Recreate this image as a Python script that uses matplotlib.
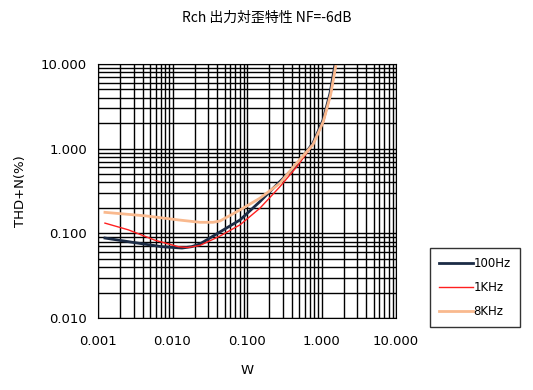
import matplotlib
matplotlib.use("Agg")
import matplotlib.pyplot as plt
from matplotlib.ticker import LogLocator, NullFormatter

plt.rcParams["font.family"] = ["Noto Sans CJK JP", "DejaVu Sans"]

title = "Rch 出力対歪特性 NF=-6dB"

# 100Hz
w_100 = [0.00124, 0.003, 0.0072, 0.0134, 0.018, 0.0234, 0.0435, 0.0806, 0.149,
         0.277, 0.465, 0.77, 1.05, 1.3, 1.52]
thd_100 = [0.088, 0.078, 0.0695, 0.067, 0.0695, 0.075, 0.104, 0.144, 0.237,
           0.41, 0.64, 1.17, 2.18, 4.5, 10.0]
# 1KHz
w_1k = [0.00124, 0.00255, 0.0058, 0.012, 0.016, 0.0234, 0.0435, 0.0806, 0.149,
        0.277, 0.465, 0.77, 1.07, 1.34, 1.58]
thd_1k = [0.132, 0.110, 0.083, 0.0695, 0.068, 0.072, 0.093, 0.126, 0.198,
          0.356, 0.61, 1.12, 2.1, 4.4, 10.0]
# 8KHz
w_8k = [0.00124, 0.0043, 0.012, 0.0234, 0.035, 0.0435, 0.0806, 0.149, 0.277,
        0.42, 0.77, 1.06, 1.33, 1.57]
thd_8k = [0.177, 0.161, 0.144, 0.135, 0.135, 0.140, 0.189, 0.26, 0.39,
          0.61, 1.12, 2.1, 4.4, 10.0]

xticks = [0.001, 0.01, 0.1, 1, 10]
xlabels = ["0.001", "0.010", "0.100", "1.000", "10.000"]
yticks = [0.01, 0.1, 1, 10]
ylabels = ["0.010", "0.100", "1.000", "10.000"]

fig = plt.figure(figsize=(5.33, 3.9), dpi=100)
ax = fig.add_axes([98 / 533, 1 - 318 / 390, (396 - 98) / 533, (318 - 64) / 390])

ax.plot(w_100, thd_100, color="#1b2b45", lw=2, label="100Hz", solid_joinstyle="round")
ax.plot(w_1k, thd_1k, color="#ff2020", lw=1, label="1KHz", solid_joinstyle="round")
ax.plot(w_8k, thd_8k, color="#f9b98e", lw=2, label="8KHz", solid_joinstyle="round")

ax.set_xscale("log")
ax.set_yscale("log")
ax.set_xlim(0.001, 10)
ax.set_ylim(0.01, 10)
ax.set_xticks(xticks)
ax.set_xticklabels(xlabels, fontsize=9.5, family="DejaVu Sans")
ax.set_yticks(yticks)
ax.set_yticklabels(ylabels, fontsize=9.5, family="DejaVu Sans")
ax.xaxis.set_minor_locator(LogLocator(base=10, subs=range(2, 10)))
ax.yaxis.set_minor_locator(LogLocator(base=10, subs=range(2, 10)))
ax.xaxis.set_minor_formatter(NullFormatter())
ax.yaxis.set_minor_formatter(NullFormatter())
ax.tick_params(axis="x", which="both", length=0, pad=12)
ax.tick_params(axis="y", which="both", length=0, pad=8)
ax.grid(which="both", color="black", lw=1)
for s in ax.spines.values():
    s.set_color("black")

ax.set_xlabel("W", fontsize=9.5, labelpad=12, family="DejaVu Sans")
ax.set_ylabel("THD+N(%)", fontsize=9.5, labelpad=10, family="DejaVu Sans")
fig.text(0.5, 1 - 18 / 390, title, ha="center", va="center", fontsize=10)

leg = fig.legend(loc="upper left", bbox_to_anchor=(430 / 533, 1 - 248 / 390),
                 borderaxespad=0, frameon=True, fancybox=False, edgecolor="black",
                 prop={"family": "DejaVu Sans", "size": 8.5},
                 handlelength=2.8, handletextpad=0.1, labelspacing=0.9,
                 borderpad=0.8)
leg.get_frame().set_linewidth(1)

fig.savefig("out.png", dpi=100)
